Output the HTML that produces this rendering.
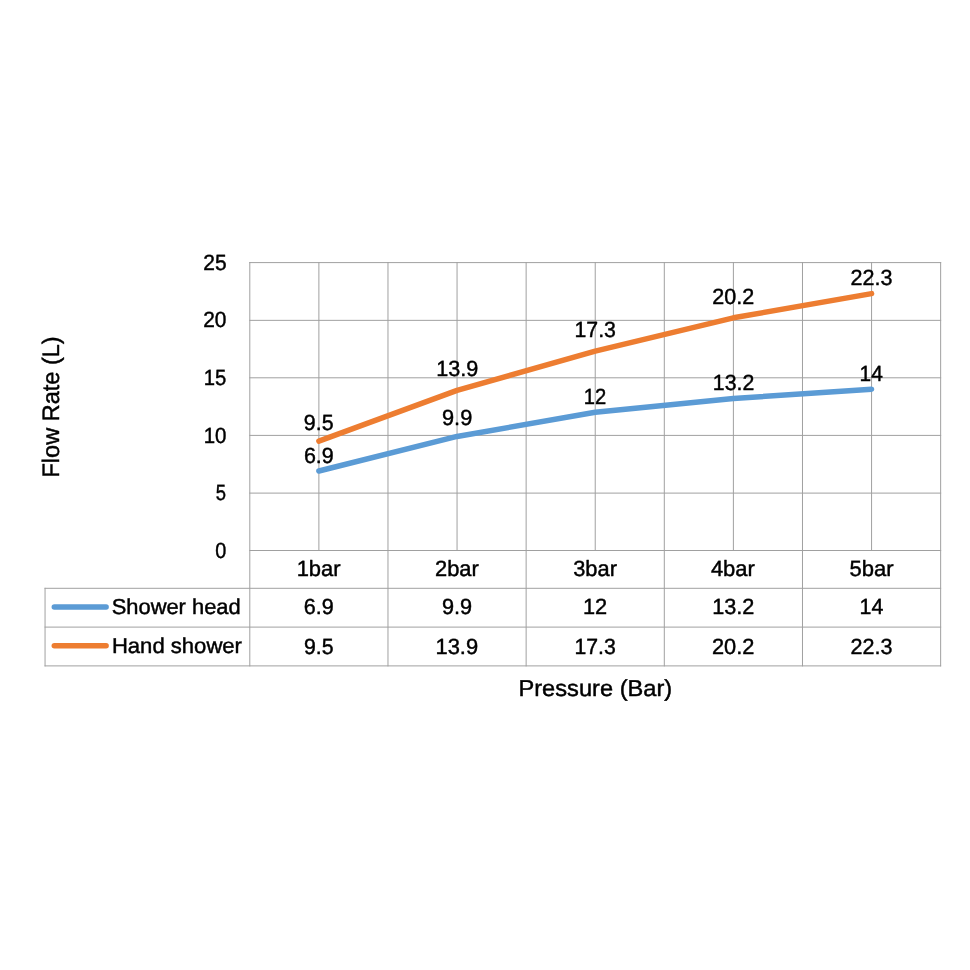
<!DOCTYPE html>
<html lang="en">
<head>
<meta charset="utf-8">
<title>Flow Rate vs Pressure</title>
<style>
html,body{margin:0;padding:0;background:#fff;}
body{width:970px;height:970px;overflow:hidden;}
svg{display:block;}
text{font-family:"Liberation Sans",Arial,sans-serif;fill:#000;stroke:#000;stroke-width:0.45px;stroke-linejoin:round;text-rendering:geometricPrecision;}
</style>
</head>
<body>
<svg width="970" height="970" viewBox="0 0 970 970">
<rect width="970" height="970" fill="#ffffff"/>
<g stroke="#a0a0a0" stroke-width="1.0" stroke-linecap="square" fill="none">
<line x1="249.80" y1="550.50" x2="940.65" y2="550.50"/>
<line x1="249.80" y1="493.10" x2="940.65" y2="493.10"/>
<line x1="249.80" y1="435.40" x2="940.65" y2="435.40"/>
<line x1="249.80" y1="377.80" x2="940.65" y2="377.80"/>
<line x1="249.80" y1="320.35" x2="940.65" y2="320.35"/>
<line x1="249.80" y1="262.60" x2="940.65" y2="262.60"/>
<line x1="249.80" y1="262.50" x2="249.80" y2="665.90"/>
<line x1="318.88" y1="262.50" x2="318.88" y2="550.50"/>
<line x1="387.97" y1="262.50" x2="387.97" y2="665.90"/>
<line x1="457.06" y1="262.50" x2="457.06" y2="550.50"/>
<line x1="526.14" y1="262.50" x2="526.14" y2="665.90"/>
<line x1="595.22" y1="262.50" x2="595.22" y2="550.50"/>
<line x1="664.31" y1="262.50" x2="664.31" y2="665.90"/>
<line x1="733.39" y1="262.50" x2="733.39" y2="550.50"/>
<line x1="802.48" y1="262.50" x2="802.48" y2="665.90"/>
<line x1="871.57" y1="262.50" x2="871.57" y2="550.50"/>
<line x1="940.65" y1="262.50" x2="940.65" y2="665.90"/>
<line x1="45.05" y1="588.30" x2="940.65" y2="588.30"/>
<line x1="45.05" y1="627.10" x2="940.65" y2="627.10"/>
<line x1="45.05" y1="665.90" x2="940.65" y2="665.90"/>
<line x1="45.05" y1="588.30" x2="45.05" y2="665.90"/>
</g>
<g fill="none" stroke-width="5.5" stroke-linecap="round" stroke-linejoin="round">
<polyline stroke="#5b9bd5" points="318.88,471.01 457.06,436.45 595.22,412.26 733.39,398.44 871.57,389.22"/>
<polyline stroke="#ed7d31" points="318.88,441.06 457.06,390.37 595.22,351.20 733.39,317.80 871.57,293.60"/>
<line stroke="#5b9bd5" x1="54.3" y1="606.9" x2="106.1" y2="606.9"/>
<line stroke="#ed7d31" x1="54.3" y1="645.7" x2="106.1" y2="645.7"/>
</g>
<g>
<text x="203.22" y="269.70" font-size="22.0" textLength="23.33" lengthAdjust="spacingAndGlyphs">25</text>
<text x="203.22" y="327.45" font-size="22.0" textLength="23.21" lengthAdjust="spacingAndGlyphs">20</text>
<text x="203.67" y="384.90" font-size="22.0" textLength="22.56" lengthAdjust="spacingAndGlyphs">15</text>
<text x="203.66" y="442.50" font-size="22.0" textLength="22.76" lengthAdjust="spacingAndGlyphs">10</text>
<text x="215.83" y="500.20" font-size="22.0" textLength="10.25" lengthAdjust="spacingAndGlyphs">5</text>
<text x="215.29" y="557.60" font-size="22.0" textLength="11.03" lengthAdjust="spacingAndGlyphs">0</text>
<text x="303.82" y="429.85" font-size="22.0" textLength="29.73" lengthAdjust="spacingAndGlyphs">9.5</text>
<text x="436.18" y="375.80" font-size="22.0" textLength="42.09" lengthAdjust="spacingAndGlyphs">13.9</text>
<text x="574.50" y="336.85" font-size="22.0" textLength="41.43" lengthAdjust="spacingAndGlyphs">17.3</text>
<text x="712.29" y="303.80" font-size="22.0" textLength="41.97" lengthAdjust="spacingAndGlyphs">20.2</text>
<text x="850.49" y="285.10" font-size="22.0" textLength="41.95" lengthAdjust="spacingAndGlyphs">22.3</text>
<text x="303.90" y="463.10" font-size="22.0" textLength="29.88" lengthAdjust="spacingAndGlyphs">6.9</text>
<text x="442.01" y="424.90" font-size="22.0" textLength="30.28" lengthAdjust="spacingAndGlyphs">9.9</text>
<text x="583.77" y="404.00" font-size="22.0" textLength="22.46" lengthAdjust="spacingAndGlyphs">12</text>
<text x="712.80" y="390.30" font-size="22.0" textLength="41.45" lengthAdjust="spacingAndGlyphs">13.2</text>
<text x="859.52" y="380.90" font-size="22.0" textLength="23.27" lengthAdjust="spacingAndGlyphs">14</text>
<text x="296.65" y="576.35" font-size="22.0" textLength="43.97" lengthAdjust="spacingAndGlyphs">1bar</text>
<text x="434.98" y="576.35" font-size="22.0" textLength="43.84" lengthAdjust="spacingAndGlyphs">2bar</text>
<text x="573.23" y="576.35" font-size="22.0" textLength="43.69" lengthAdjust="spacingAndGlyphs">3bar</text>
<text x="710.90" y="576.35" font-size="22.0" textLength="44.02" lengthAdjust="spacingAndGlyphs">4bar</text>
<text x="849.52" y="576.35" font-size="22.0" textLength="44.10" lengthAdjust="spacingAndGlyphs">5bar</text>
<text x="303.79" y="614.20" font-size="22.0" textLength="29.98" lengthAdjust="spacingAndGlyphs">6.9</text>
<text x="441.91" y="614.20" font-size="22.0" textLength="30.17" lengthAdjust="spacingAndGlyphs">9.9</text>
<text x="582.97" y="614.20" font-size="22.0" textLength="24.24" lengthAdjust="spacingAndGlyphs">12</text>
<text x="712.17" y="614.20" font-size="22.0" textLength="42.19" lengthAdjust="spacingAndGlyphs">13.2</text>
<text x="859.59" y="614.20" font-size="22.0" textLength="23.81" lengthAdjust="spacingAndGlyphs">14</text>
<text x="303.92" y="653.70" font-size="22.0" textLength="29.62" lengthAdjust="spacingAndGlyphs">9.5</text>
<text x="435.45" y="653.70" font-size="22.0" textLength="42.72" lengthAdjust="spacingAndGlyphs">13.9</text>
<text x="574.40" y="653.70" font-size="22.0" textLength="41.33" lengthAdjust="spacingAndGlyphs">17.3</text>
<text x="711.98" y="653.70" font-size="22.0" textLength="42.39" lengthAdjust="spacingAndGlyphs">20.2</text>
<text x="850.59" y="653.70" font-size="22.0" textLength="41.95" lengthAdjust="spacingAndGlyphs">22.3</text>
<text x="111.69" y="613.80" font-size="21.6" textLength="129.02" lengthAdjust="spacingAndGlyphs">Shower head</text>
<text x="111.92" y="652.80" font-size="21.6" textLength="130.04" lengthAdjust="spacingAndGlyphs">Hand shower</text>
<text x="518.48" y="695.70" font-size="23.0" textLength="153.78" lengthAdjust="spacingAndGlyphs">Pressure (Bar)</text>
</g>
<text transform="rotate(-90)" x="-477.53" y="58.60" font-size="23.8" textLength="141.22" lengthAdjust="spacingAndGlyphs">Flow Rate (L)</text>
</svg>
</body>
</html>
